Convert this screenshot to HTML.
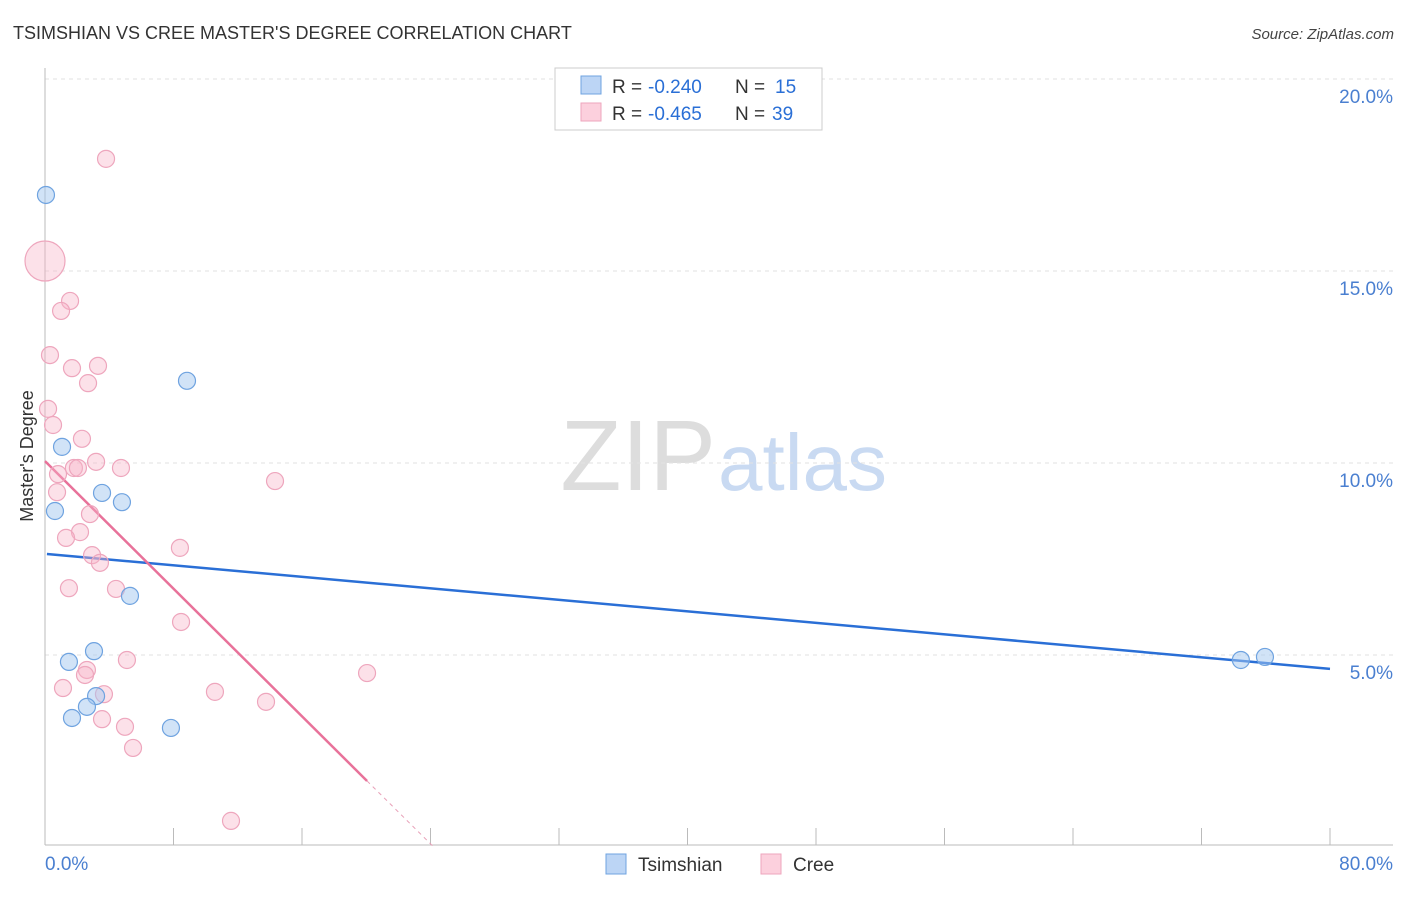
<!DOCTYPE html>
<html><head><meta charset="utf-8"><style>
body{margin:0;background:#fff;font-family:"Liberation Sans",sans-serif;}
svg text{font-family:"Liberation Sans",sans-serif;}
</style></head><body>
<svg id="chart" width="1406" height="892" xmlns="http://www.w3.org/2000/svg">
<text x="13" y="39" font-size="18" fill="#333">TSIMSHIAN VS CREE MASTER'S DEGREE CORRELATION CHART</text>
<text x="1394" y="39" font-size="15" fill="#444" text-anchor="end" font-style="italic">Source: ZipAtlas.com</text>
<text x="716" y="490" font-size="100" text-anchor="end" fill="#ddd" font-family="Liberation Serif">ZIP</text>
<text x="718" y="490" font-size="80" fill="#c9daf2">atlas</text>
<text transform="translate(33,456) rotate(-90)" font-size="18" fill="#333" text-anchor="middle">Master's Degree</text>
<g id="grid"></g><g id="axes"></g><g id="trend"></g><g id="pts"></g>
<g>
<rect x="555" y="68" width="267" height="62" fill="#fff" stroke="#ccc"/>
<rect x="581" y="76" width="20" height="18" fill="#bcd5f5" stroke="#6fa3e0"/>
<rect x="581" y="103" width="20" height="18" fill="#fcd0dd" stroke="#eea6bd"/>
<text x="612" y="93" font-size="19" fill="#333">R =</text>
<text x="648" y="93" font-size="19" fill="#2a6fd6">-0.240</text>
<text x="735" y="93" font-size="19" fill="#333">N =</text>
<text x="775" y="93" font-size="19" fill="#2a6fd6">15</text>
<text x="612" y="120" font-size="19" fill="#333">R =</text>
<text x="648" y="120" font-size="19" fill="#2a6fd6">-0.465</text>
<text x="735" y="120" font-size="19" fill="#333">N =</text>
<text x="772" y="120" font-size="19" fill="#2a6fd6">39</text>
</g>
<g>
<rect x="606" y="854" width="20" height="20" fill="#bcd5f5" stroke="#6fa3e0"/>
<text x="638" y="871" font-size="19" fill="#333">Tsimshian</text>
<rect x="761" y="854" width="20" height="20" fill="#fcd0dd" stroke="#eea6bd"/>
<text x="793" y="871" font-size="19" fill="#333">Cree</text>
</g>
</svg>
<script>
const yTicks=[5,10,15,20];
const yTickLabels=["5.0%","10.0%","15.0%","20.0%"];
const xTickLabels=["0.0%","80.0%"];
const tsX=[0.06,1.06,0.62,3.55,4.79,8.84,5.29,3.05,1.49,3.18,2.61,1.68,7.84,74.45,75.95];
const tsY=[16.98,10.42,8.75,9.22,8.98,12.14,6.54,5.10,4.82,3.93,3.65,3.36,3.10,4.87,4.95];
const crX=[3.8,0,1.56,1.0,0.31,3.3,1.68,2.68,0.19,0.5,2.3,3.18,0.81,1.8,2.05,4.73,0.75,14.32,2.8,2.18,1.31,8.4,2.93,3.42,4.42,1.49,8.47,5.1,2.61,2.49,20.05,1.12,3.67,10.58,13.76,3.55,4.98,5.48,11.58];
const crY=[17.92,15.26,14.22,13.96,12.81,12.53,12.47,12.08,11.41,10.99,10.63,10.03,9.71,9.87,9.87,9.87,9.24,9.53,8.67,8.2,8.05,7.79,7.6,7.4,6.72,6.74,5.86,4.87,4.61,4.48,4.53,4.14,3.98,4.04,3.78,3.33,3.13,2.58,0.68];
const tsLine=[0.12,7.63,80,4.64];
const crLine=[0,10.05,20.05,1.72,24.2,0];
const X=v=>45+v*(1285/80), Y=v=>847-v*38.4;
const NS="http://www.w3.org/2000/svg";
function mk(tag,parent,attrs){const e=document.createElementNS(NS,tag);for(const k in attrs)e.setAttribute(k,attrs[k]);document.getElementById(parent).appendChild(e);return e;}
yTicks.forEach((t,i)=>{
 const l=mk('line','grid',{x1:45,x2:1393,y1:Y(t),y2:Y(t),stroke:'#e2e2e2','stroke-dasharray':'4,4'});
 
 
 const tx=mk('text','grid',{x:1393,y:Y(t)+24,'font-size':19,fill:'#4a7fd0','text-anchor':'end'});
 tx.textContent=yTickLabels[i];
 
 
});
const ax=mk('line','axes',{x1:45,x2:45,y1:68,y2:845,stroke:'#bbb'});


const bx=mk('line','axes',{x1:45,x2:1393,y1:845,y2:845,stroke:'#bbb'});


for(let i=0;i<=10;i++){const t=mk('line','axes',{x1:X(i*8),x2:X(i*8),y1:828,y2:845,stroke:'#bbb'});
 
 }
[[0,'start',45],[80,'end',1393]].forEach((d,i)=>{const t=mk('text','axes',{x:d[2],y:870,'font-size':19,fill:'#4a7fd0','text-anchor':d[1]});t.textContent=xTickLabels[i];
 
 });
const bl=mk('line','trend',{x1:X(tsLine[0]),y1:Y(tsLine[1]),x2:X(tsLine[2]),y2:Y(tsLine[3]),stroke:'#2a6fd6','stroke-width':2.5});


const pl=mk('line','trend',{x1:X(crLine[0]),y1:Y(crLine[1]),x2:X(crLine[2]),y2:Y(crLine[3]),stroke:'#e8729a','stroke-width':2.5});


const pd=mk('line','trend',{x1:X(crLine[2]),y1:Y(crLine[3]),x2:X(crLine[4]),y2:Y(crLine[5]),stroke:'#e8a0b8','stroke-width':1,'stroke-dasharray':'4,4'});


crX.forEach((v,i)=>{const c=mk('circle','pts',{cx:X(v),cy:Y(crY[i]),r:i===1?20:8.5,fill:'rgba(248,180,200,0.4)',stroke:'#eea6bd','stroke-width':1.2});
 
 });
tsX.forEach((v,i)=>{const c=mk('circle','pts',{cx:X(v),cy:Y(tsY[i]),r:8.5,fill:'rgba(164,200,240,0.5)',stroke:'#6fa3e0','stroke-width':1.2});
 
 });
</script>
</body></html>
